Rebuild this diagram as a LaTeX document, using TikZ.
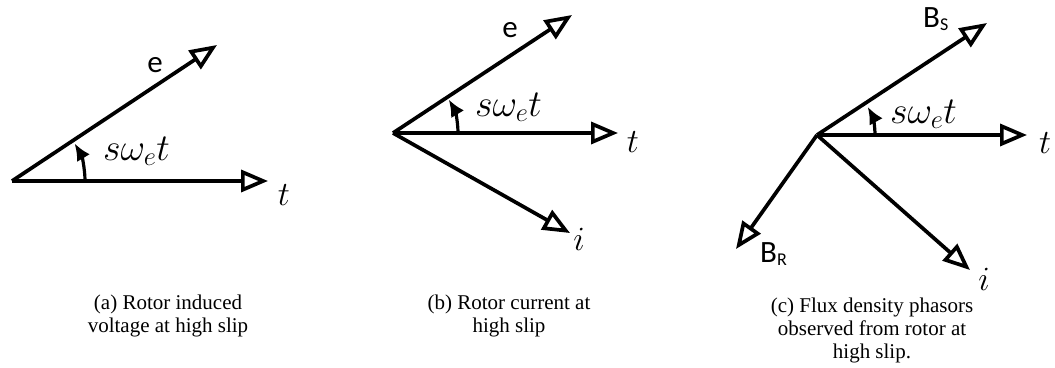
\RequirePackage{fix-cm}
\documentclass[tikz,border=0pt]{standalone}
\usepackage{fontspec}
\setmainfont{Liberation Serif}
\newfontfamily\lblfont{Carlito}
\usepackage{amsmath}
\usepackage{tikz}
\usetikzlibrary{arrows}
\usetikzlibrary{arrows.meta}
\newcommand{\lblsub}[1]{\raisebox{-0.12em}{\fontsize{18}{18}\selectfont #1}}
\newcommand{\slipang}{s\omega_e t}

\begin{document}
\begin{tikzpicture}[x=1pt,y=-1pt]
\tikzstyle{vec}=[line width=3.7pt,-{Triangle[open,length=27pt,width=22pt]}]
\tikzstyle{turn}=[line width=3.2pt,-{Latex[length=17pt,width=15pt]}]
\tikzstyle{lbl}=[font=\lblfont\fontsize{31}{31}\selectfont,inner sep=0pt]
\tikzstyle{var}=[font=\fontsize{34}{34}\selectfont,inner sep=0pt]
\tikzstyle{angl}=[font=\fontsize{38}{38}\selectfont,inner sep=0pt,anchor=base west]
\tikzstyle{capt}=[font=\fontsize{21}{23}\selectfont,align=center,inner sep=0pt]
\useasboundingbox (0,0) rectangle (1055,367);

% (a) rotor induced voltage
\coordinate (oa) at (12,181);
\coordinate (ea) at (217,45);
\coordinate (ta) at (268,181);
\draw[vec] (oa) -- (ea);
\draw[vec] (oa) -- (ta);
\draw[turn] ([shift={(0:73pt)}]oa) arc[start angle=0,end angle=31,radius=73pt];
\node[lbl,anchor=base] (lea) at (155,72) {e};
\node[var,anchor=base] (lta) at (284,205) {$t$};
\node[angl] (wa) at (103,160) {$\slipang$};
\node[capt] (ca) at (168,316) {(a) Rotor induced\\voltage at high slip};

% (b) rotor current
\coordinate (ob) at (393,133);
\coordinate (eb) at (572,15);
\coordinate (tb) at (618,133);
\coordinate (ib) at (570,233);
\draw[vec] (ob) -- (eb);
\draw[vec] (ob) -- (tb);
\draw[vec] (ob) -- (ib);
\draw[turn] ([shift={(0:65pt)}]ob) arc[start angle=0,end angle=31,radius=65pt];
\node[lbl,anchor=base] (leb) at (510,37) {e};
\node[var,anchor=base] (ltb) at (633,152) {$t$};
\node[var,anchor=base] (lib) at (579,250) {$i$};
\node[angl] (wb) at (475,116) {$\slipang$};
\node[capt] (cb) at (509,316) {(b) Rotor current at\\high slip};

% (c) flux density phasors
\coordinate (oc) at (817,135);
\coordinate (sc) at (987,23);
\coordinate (tc) at (1027,135);
\coordinate (ic) at (970,270);
\coordinate (rc) at (736,249);
\draw[vec] (oc) -- (sc);
\draw[vec] (oc) -- (tc);
\draw[vec] (oc) -- (ic);
\draw[vec] (oc) -- (rc);
\draw[turn] ([shift={(0:58pt)}]oc) arc[start angle=0,end angle=29,radius=58pt];
\node[lbl,anchor=base west] (lsc) at (923,27) {B\lblsub{S}};
\node[lbl,anchor=base west] (lrc) at (760,262) {B\lblsub{R}};
\node[var,anchor=base] (ltc) at (1045,153) {$t$};
\node[var,anchor=base] (lic) at (984,290) {$i$};
\node[angl] (wc) at (890,123) {$\slipang$};
\node[capt] (cc) at (872,330) {(c) Flux density phasors\\observed from rotor at\\high slip.};
\end{tikzpicture}
\end{document}
